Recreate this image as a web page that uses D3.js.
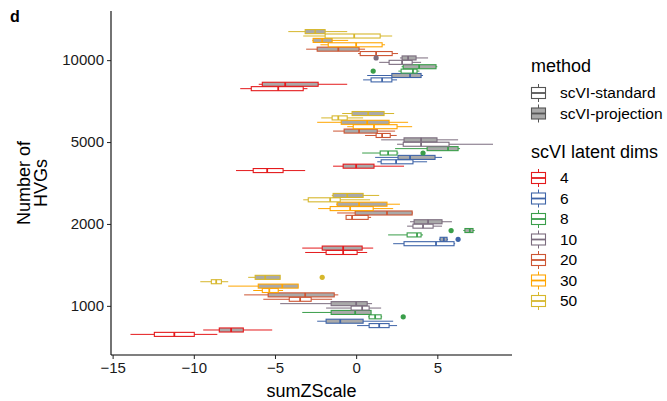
<!DOCTYPE html>
<html>
<head>
<meta charset="utf-8">
<script src="https://cdn.jsdelivr.net/npm/d3@7"></script>
<style>
  body { margin: 0; background: #fff; }
  text { font-family: "Liberation Sans", Arial, sans-serif; }
</style>
</head>
<body>
<script>
// categories
const hvgs = ["1000", "2000", "5000", "10000"];
const dims = [4, 6, 8, 10, 20, 30, 50];
const methods = ["scVI-standard", "scVI-projection"];
const dimColors = ["#E41A1C", "#3E64A8", "#3A9E4A", "#7B6C7E", "#CC5533", "#FFA500", "#D6B72C"];
const xTicks = [-15, -10, -5, 0, 5];

// box stats [low whisker, q1, median, q3, high whisker]
// order: for each dim, standard then projection
const stats1000 = [
  [-13.9, -12.43, -11.2, -9.97, -8.55], [-9.42, -8.43, -7.7, -6.95, -5.17],
  [0.06, 0.8, 1.42, 2.03, 2.52], [-2.4, -1.85, -0.98, 0.43, 2.28],
  [0.74, 0.8, 1.17, 1.54, 1.6], [-3.32, -1.54, -0.06, 0.92, 0.92],
  [-1.85, -0.31, 0.37, 0.8, 1.54], [-4.68, -1.54, 0.0, 0.68, 0.98],
  [-5.72, -4.12, -3.45, -2.77, -1.48], [-6.9, -5.42, -3.14, -1.35, -1.1],
  [-6.34, -5.78, -5.35, -4.8, -4.5], [-7.88, -6.03, -4.55, -3.57, -3.57],
  [-9.6, -8.92, -8.62, -8.3, -7.88], [-6.65, -6.22, -5.6, -4.68, -4.68]
];
const stats2000 = [
  [-3.14, -1.85, -0.8, 0.06, 0.68], [-3.32, -2.09, -0.8, 0.37, 1.05],
  [2.28, 2.95, 4.92, 6.03, 6.1], [5.1, 5.17, 5.4, 5.6, 5.66],
  [1.97, 3.14, 3.75, 4.0, 4.12], [6.6, 6.7, 7.0, 7.2, 7.3],
  [3.14, 3.5, 4.12, 4.74, 5.29], [3.32, 3.57, 4.43, 5.29, 5.9],
  [-0.62, -0.62, -0.25, 0.74, 0.92], [-1.17, -0.06, 1.9, 3.45, 3.5],
  [-2.34, -1.6, -0.37, 1.05, 2.28], [-1.23, -1.17, 0.18, 1.9, 2.7],
  [-3.26, -2.95, -1.6, -0.98, 0.86], [-1.5, -1.42, -0.55, 0.43, 1.42]
];
const stats5000 = [
  [-7.4, -6.34, -5.48, -4.5, -3.14], [-1.42, -0.8, 0.0, 1.1, 2.95],
  [1.3, 1.54, 2.46, 3.5, 4.37], [1.17, 2.58, 3.32, 4.86, 5.29],
  [0.37, 1.48, 1.97, 2.52, 2.6], [2.4, 4.37, 5.66, 6.28, 6.4],
  [2.52, 2.9, 4.0, 5.72, 8.43], [1.54, 2.95, 4.0, 4.98, 6.28],
  [0.55, 1.23, 1.6, 2.1, 2.5], [-1.42, -0.74, 0.18, 1.3, 2.4],
  [-0.55, -0.18, 1.1, 2.52, 3.45], [-2.4, -0.92, 0.68, 2.03, 3.2],
  [-2.15, -1.48, -1.1, -0.55, 0.43], [-0.86, -0.25, 0.74, 1.72, 2.34]
];
const stats10000 = [
  [-7.14, -6.46, -4.8, -3.26, -3.0], [-6.0, -5.78, -4.37, -2.34, -0.55],
  [0.43, 0.92, 1.6, 2.2, 2.52], [0.68, 2.2, 3.32, 4.0, 4.12],
  [2.6, 2.77, 3.5, 3.75, 3.9], [2.8, 2.9, 3.88, 4.92, 5.0],
  [1.42, 2.03, 2.83, 3.45, 4.0], [2.7, 2.83, 3.2, 3.69, 4.43],
  [0.12, 0.25, 1.23, 2.22, 2.58], [-3.08, -2.4, -1.1, 0.18, 0.55],
  [-2.2, -1.72, 0.0, 1.6, 1.78], [-2.7, -2.65, -2.09, -1.48, -0.49],
  [-3.26, -1.91, -0.12, 1.48, 2.22], [-4.18, -3.14, -2.52, -1.91, -0.55]
];
// outliers [hvg, dim, method index, value]
const outliers = [
  ["1000", 50, 1, -2.09], ["1000", 8, 0, 2.9],
  ["2000", 8, 1, 5.85], ["2000", 6, 1, 6.28],
  ["5000", 8, 0, 4.12],
  ["10000", 10, 1, 1.23], ["10000", 8, 0, 1.05]
];

const statsByHvg = { "1000": stats1000, "2000": stats2000, "5000": stats5000, "10000": stats10000 };

const width = 667, height = 401;
const margin = { left: 111, right: 155, top: 11, bottom: 46 };

const svg = d3.select("body").append("svg")
  .attr("width", width)
  .attr("height", height);

const x = d3.scaleLinear()
  .domain([-15.1, 9.6])
  .range([margin.left, width - margin.right]);

const y = d3.scalePoint()
  .domain(hvgs)
  .range([height - margin.bottom, margin.top])
  .padding(0.6);

const step = y.step();
const nSlots = dims.length * methods.length;
const slot = step * 0.75 / nSlots;
const boxH = slot * 0.92;

function slotY(hvg, di, mi) {
  const i = di * 2 + mi;
  return y(hvg) + step * 0.375 - (i + 0.5) * slot;
}

// boxes
const rows = [];
hvgs.forEach(h => {
  statsByHvg[h].forEach((s, i) => {
    rows.push({ hvg: h, di: Math.floor(i / 2), mi: i % 2, s: s });
  });
});

const g = svg.append("g").classed("boxes", true);

const box = g.selectAll(".box")
  .data(rows).enter()
  .append("g")
  .classed("box", true)
  .attr("transform", d => "translate(0," + slotY(d.hvg, d.di, d.mi) + ")");

box.append("line")
  .attr("x1", d => x(d.s[0]))
  .attr("x2", d => x(d.s[4]))
  .attr("stroke", d => dimColors[d.di])
  .attr("stroke-width", 1);

box.append("rect")
  .attr("x", d => x(d.s[1]))
  .attr("y", -boxH / 2)
  .attr("width", d => x(d.s[3]) - x(d.s[1]))
  .attr("height", boxH)
  .attr("fill", d => d.mi === 1 ? "#A9A9A9" : "#ffffff")
  .attr("stroke", d => dimColors[d.di])
  .attr("stroke-width", 1.1);

box.append("line")
  .attr("x1", d => x(d.s[2]))
  .attr("x2", d => x(d.s[2]))
  .attr("y1", -boxH / 2)
  .attr("y2", boxH / 2)
  .attr("stroke", d => dimColors[d.di])
  .attr("stroke-width", 1.8);

g.selectAll(".outlier")
  .data(outliers).enter()
  .append("circle")
  .classed("outlier", true)
  .attr("cx", d => x(d[3]))
  .attr("cy", d => slotY(d[0], dims.indexOf(d[1]), d[2]))
  .attr("r", 2.6)
  .attr("fill", d => dimColors[dims.indexOf(d[1])]);

// axes
const xAxis = svg.append("g")
  .attr("transform", "translate(0," + (height - margin.bottom) + ")")
  .call(d3.axisBottom(x).tickValues(xTicks).tickSize(4).tickPadding(3).tickFormat(d3.format("d")));
xAxis.select(".domain").attr("d", "M" + margin.left + ",0H" + (width - margin.right));

const yAxis = svg.append("g")
  .attr("transform", "translate(" + margin.left + ",0)")
  .call(d3.axisLeft(y).tickSize(4).tickPadding(3));
yAxis.select(".domain").attr("d", "M0," + margin.top + "V" + (height - margin.bottom));

svg.selectAll(".tick text").attr("font-size", 15).attr("fill", "#1a1a1a");
svg.selectAll(".tick line").attr("stroke", "#222");
svg.selectAll(".domain").attr("stroke", "#000").attr("stroke-width", 1.1);

// axis titles
svg.append("text")
  .attr("x", (margin.left + width - margin.right) / 2)
  .attr("y", 397)
  .attr("text-anchor", "middle")
  .attr("font-size", 18)
  .text("sumZScale");

const yTitle = svg.append("text")
  .attr("transform", "translate(30," + (margin.top + height - margin.bottom) / 2 + ") rotate(-90)")
  .attr("text-anchor", "middle")
  .attr("font-size", 18);
yTitle.append("tspan").attr("x", 0).attr("dy", 0).text("Number of");
yTitle.append("tspan").attr("x", 0).attr("dy", 17).text("HVGs");

svg.append("text")
  .attr("x", 10)
  .attr("y", 22)
  .attr("font-size", 16)
  .attr("font-weight", "bold")
  .text("d");

// legends
function keyGlyph(sel, cx, cy, stroke, fill) {
  sel.append("line")
    .attr("x1", cx).attr("x2", cx)
    .attr("y1", cy - 9).attr("y2", cy + 9)
    .attr("stroke", stroke).attr("stroke-width", 1);
  sel.append("rect")
    .attr("x", cx - 7).attr("y", cy - 5.5)
    .attr("width", 14).attr("height", 11)
    .attr("fill", fill).attr("stroke", stroke).attr("stroke-width", 1.1);
  sel.append("line")
    .attr("x1", cx - 7).attr("x2", cx + 7)
    .attr("y1", cy).attr("y2", cy)
    .attr("stroke", stroke).attr("stroke-width", 1.8);
}

const lg = svg.append("g").classed("legend", true);
const lx = 531;

lg.append("text").attr("x", lx).attr("y", 72).attr("font-size", 18).text("method");
methods.forEach((m, i) => {
  const cy = 93 + i * 20.5;
  keyGlyph(lg, lx + 7.5, cy, "#555", i === 1 ? "#A9A9A9" : "#fff");
  lg.append("text").attr("x", lx + 29).attr("y", cy).attr("dy", "0.35em")
    .attr("font-size", 15.5).text(m);
});

lg.append("text").attr("x", lx).attr("y", 158).attr("font-size", 18).text("scVI latent dims");
dims.forEach((dm, i) => {
  const cy = 178 + i * 20.5;
  keyGlyph(lg, lx + 7.5, cy, dimColors[i], "#fff");
  lg.append("text").attr("x", lx + 29).attr("y", cy).attr("dy", "0.35em")
    .attr("font-size", 15.5).text(dm);
});
</script>
</body>
</html>
